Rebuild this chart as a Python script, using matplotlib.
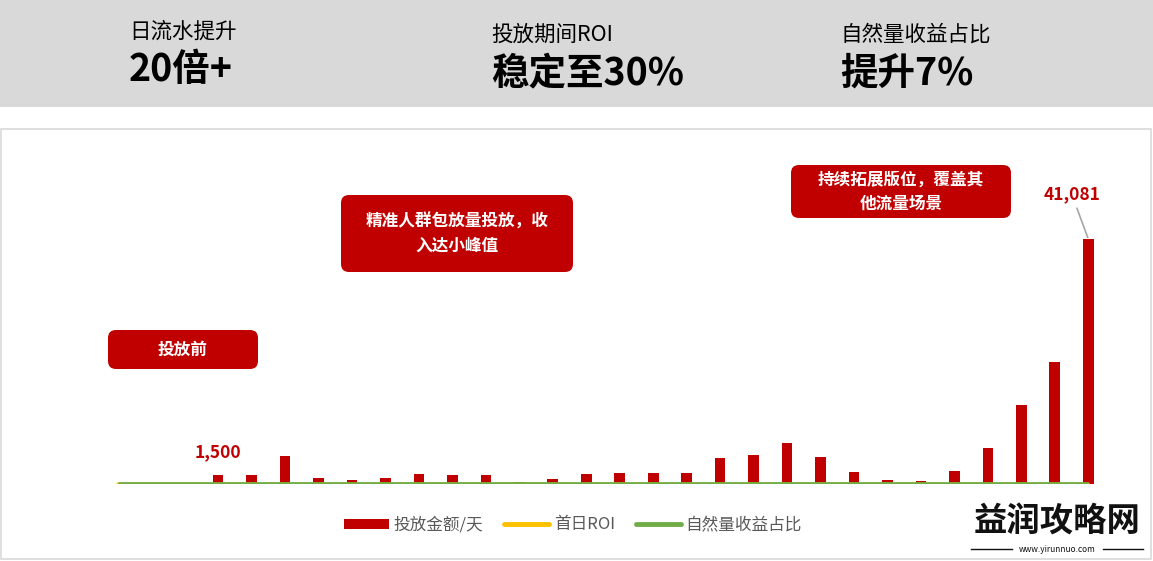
import matplotlib
matplotlib.use("Agg")
import matplotlib.pyplot as plt
from matplotlib.patches import FancyBboxPatch, Rectangle, Patch
from matplotlib.lines import Line2D
from matplotlib.transforms import Affine2D

plt.rcParams['font.family'] = ['Noto Sans CJK SC', 'DejaVu Sans']

# ---------------- data ----------------
days = list(range(1, 31))
spend = [0, 0, 0, 1500, 1500, 4700, 1000, 700, 1000, 1700,
         1500, 1500, 350, 850, 1700, 1850, 1850, 1850, 4400, 4900,
         6900, 4500, 2000, 700, 500, 2200, 6000, 13300, 20500, 41081]
roi = [0, 0, 0, 0.3, 0.3, 0.3, 0.3, 0.3, 0.3, 0.3,
       0.3, 0.3, 0.3, 0.3, 0.3, 0.3, 0.3, 0.3, 0.3, 0.3,
       0.3, 0.3, 0.3, 0.3, 0.3, 0.3, 0.3, 0.3, 0.3, 0.3]
natural = [0.05, 0.05, 0.05, 0.05, 0.05, 0.06, 0.06, 0.06, 0.06, 0.07,
           0.07, 0.07, 0.07, 0.08, 0.08, 0.08, 0.09, 0.09, 0.10, 0.10,
           0.10, 0.10, 0.11, 0.11, 0.11, 0.12, 0.12, 0.12, 0.12, 0.12]
series_names = ['投放金额/天', '首日ROI', '自然量收益占比']
kpi_titles = ['日流水提升', '投放期间ROI', '自然量收益占比']
kpi_values = ['20倍+', '稳定至30%', '提升7%']
notes = ['投放前', '精准人群包放量投放，收\n入达小峰值', '持续拓展版位，覆盖其\n他流量场景']
labelled = {3: '1,500', 29: '41,081'}

RED = '#C00000'
YELLOW = '#FFC000'
GREEN = '#70AD47'

W, H = 1153, 561
fig = plt.figure(figsize=(W / 100, H / 100), dpi=100)
fig.patch.set_facecolor('white')
# pixel transform, origin top-left
PX = Affine2D().scale(1 / 100.0, -1 / 100.0).translate(0, H / 100.0) + fig.dpi_scale_trans

# header band
fig.patches.append(Rectangle((0, 0), W, 107, transform=PX, facecolor='#D9D9D9',
                             edgecolor='none', zorder=0))
# chart frame
fig.patches.append(Rectangle((0.5, 129), W - 2.5, 430, transform=PX, facecolor='none',
                             edgecolor='#D9D9D9', lw=1.2, zorder=0))

# KPI texts
kx = [131, 493, 842]
ty = [32, 35, 35]
vy = [69, 73, 73]
for i in range(3):
    fig.text(kx[i] - 2, ty[i], kpi_titles[i], transform=PX, fontsize=15.5, color='#000000',
             ha='left', va='center')
    fig.text(kx[i] - 2, vy[i], kpi_values[i], transform=PX, fontsize=27, fontweight='bold',
             color='#000000', ha='left', va='center')

# axes
left_px, right_px, top_px, bot_px = 101, 1105, 200, 484
ax = fig.add_axes([left_px / W, 1 - bot_px / H, (right_px - left_px) / W, (bot_px - top_px) / H])
ax.set_facecolor('none')
x = list(range(len(days)))
ax.bar(x, spend, width=0.32, color=RED, zorder=2, label=series_names[0])
ax.plot(x, roi, color=YELLOW, lw=2.2, zorder=3, solid_capstyle='round', label=series_names[1])
ax.plot(x, natural, color=GREEN, lw=3.4, zorder=4, solid_capstyle='butt', label=series_names[2])
ax.set_xlim(-0.5, len(days) - 0.5)
ax.set_ylim(0, 47600)
for s in ax.spines.values():
    s.set_visible(False)
ax.set_xticks([])
ax.set_yticks([])

# data labels
ax.annotate(labelled[3], xy=(3, spend[3]), xytext=(0, 10), textcoords='offset points',
            ha='center', va='bottom', fontsize=12.5, fontweight='bold', color=RED)
ax.annotate(labelled[29], xy=(29, spend[29]), xytext=(-12, 26), textcoords='offset points',
            ha='center', va='bottom', fontsize=12.5, fontweight='bold', color=RED,
            arrowprops=dict(arrowstyle='-', color='#A6A6A6', lw=1.2,
                            shrinkA=2, shrinkB=1))

# annotation boxes
boxes = [(108, 330, 150, 39), (341, 195, 232, 77), (791, 165, 220, 53)]
for (bx, by, bw, bh), note in zip(boxes, notes):
    fig.patches.append(FancyBboxPatch((bx, by), bw, bh, transform=PX,
                                      boxstyle='round,pad=0,rounding_size=8',
                                      facecolor=RED, edgecolor='none', zorder=5))
    fig.text(bx + bw / 2, by + bh / 2, note, transform=PX, ha='center', va='center',
             fontsize=12, fontweight='bold', color='white', linespacing=1.45, zorder=6)

# legend
handles = [Patch(facecolor=RED, edgecolor='none'),
           Line2D([0], [0], color=YELLOW, lw=3.5, solid_capstyle='round'),
           Line2D([0], [0], color=GREEN, lw=3.5, solid_capstyle='round')]
leg = fig.legend(handles, series_names, loc='center', bbox_to_anchor=(573 / W, 1 - 525 / H),
                 ncol=3, frameon=False, fontsize=12, handlelength=2.7, handleheight=0.55,
                 handletextpad=0.25, columnspacing=1.3, labelcolor='#595959')

# watermark
fig.text(1057, 522, '益润攻略网', transform=PX, ha='center', va='center', fontsize=24,
         fontweight='bold', color='#111111', zorder=7)
fig.text(1057, 549, 'www.yirunnuo.com', transform=PX, ha='center', va='center', fontsize=6,
         color='#111111', zorder=7)
fig.lines.append(Line2D([971, 1012], [549, 549], transform=PX, color='#111111', lw=1))
fig.lines.append(Line2D([1103, 1143], [549, 549], transform=PX, color='#111111', lw=1))

fig.savefig('out.png', dpi=100)
